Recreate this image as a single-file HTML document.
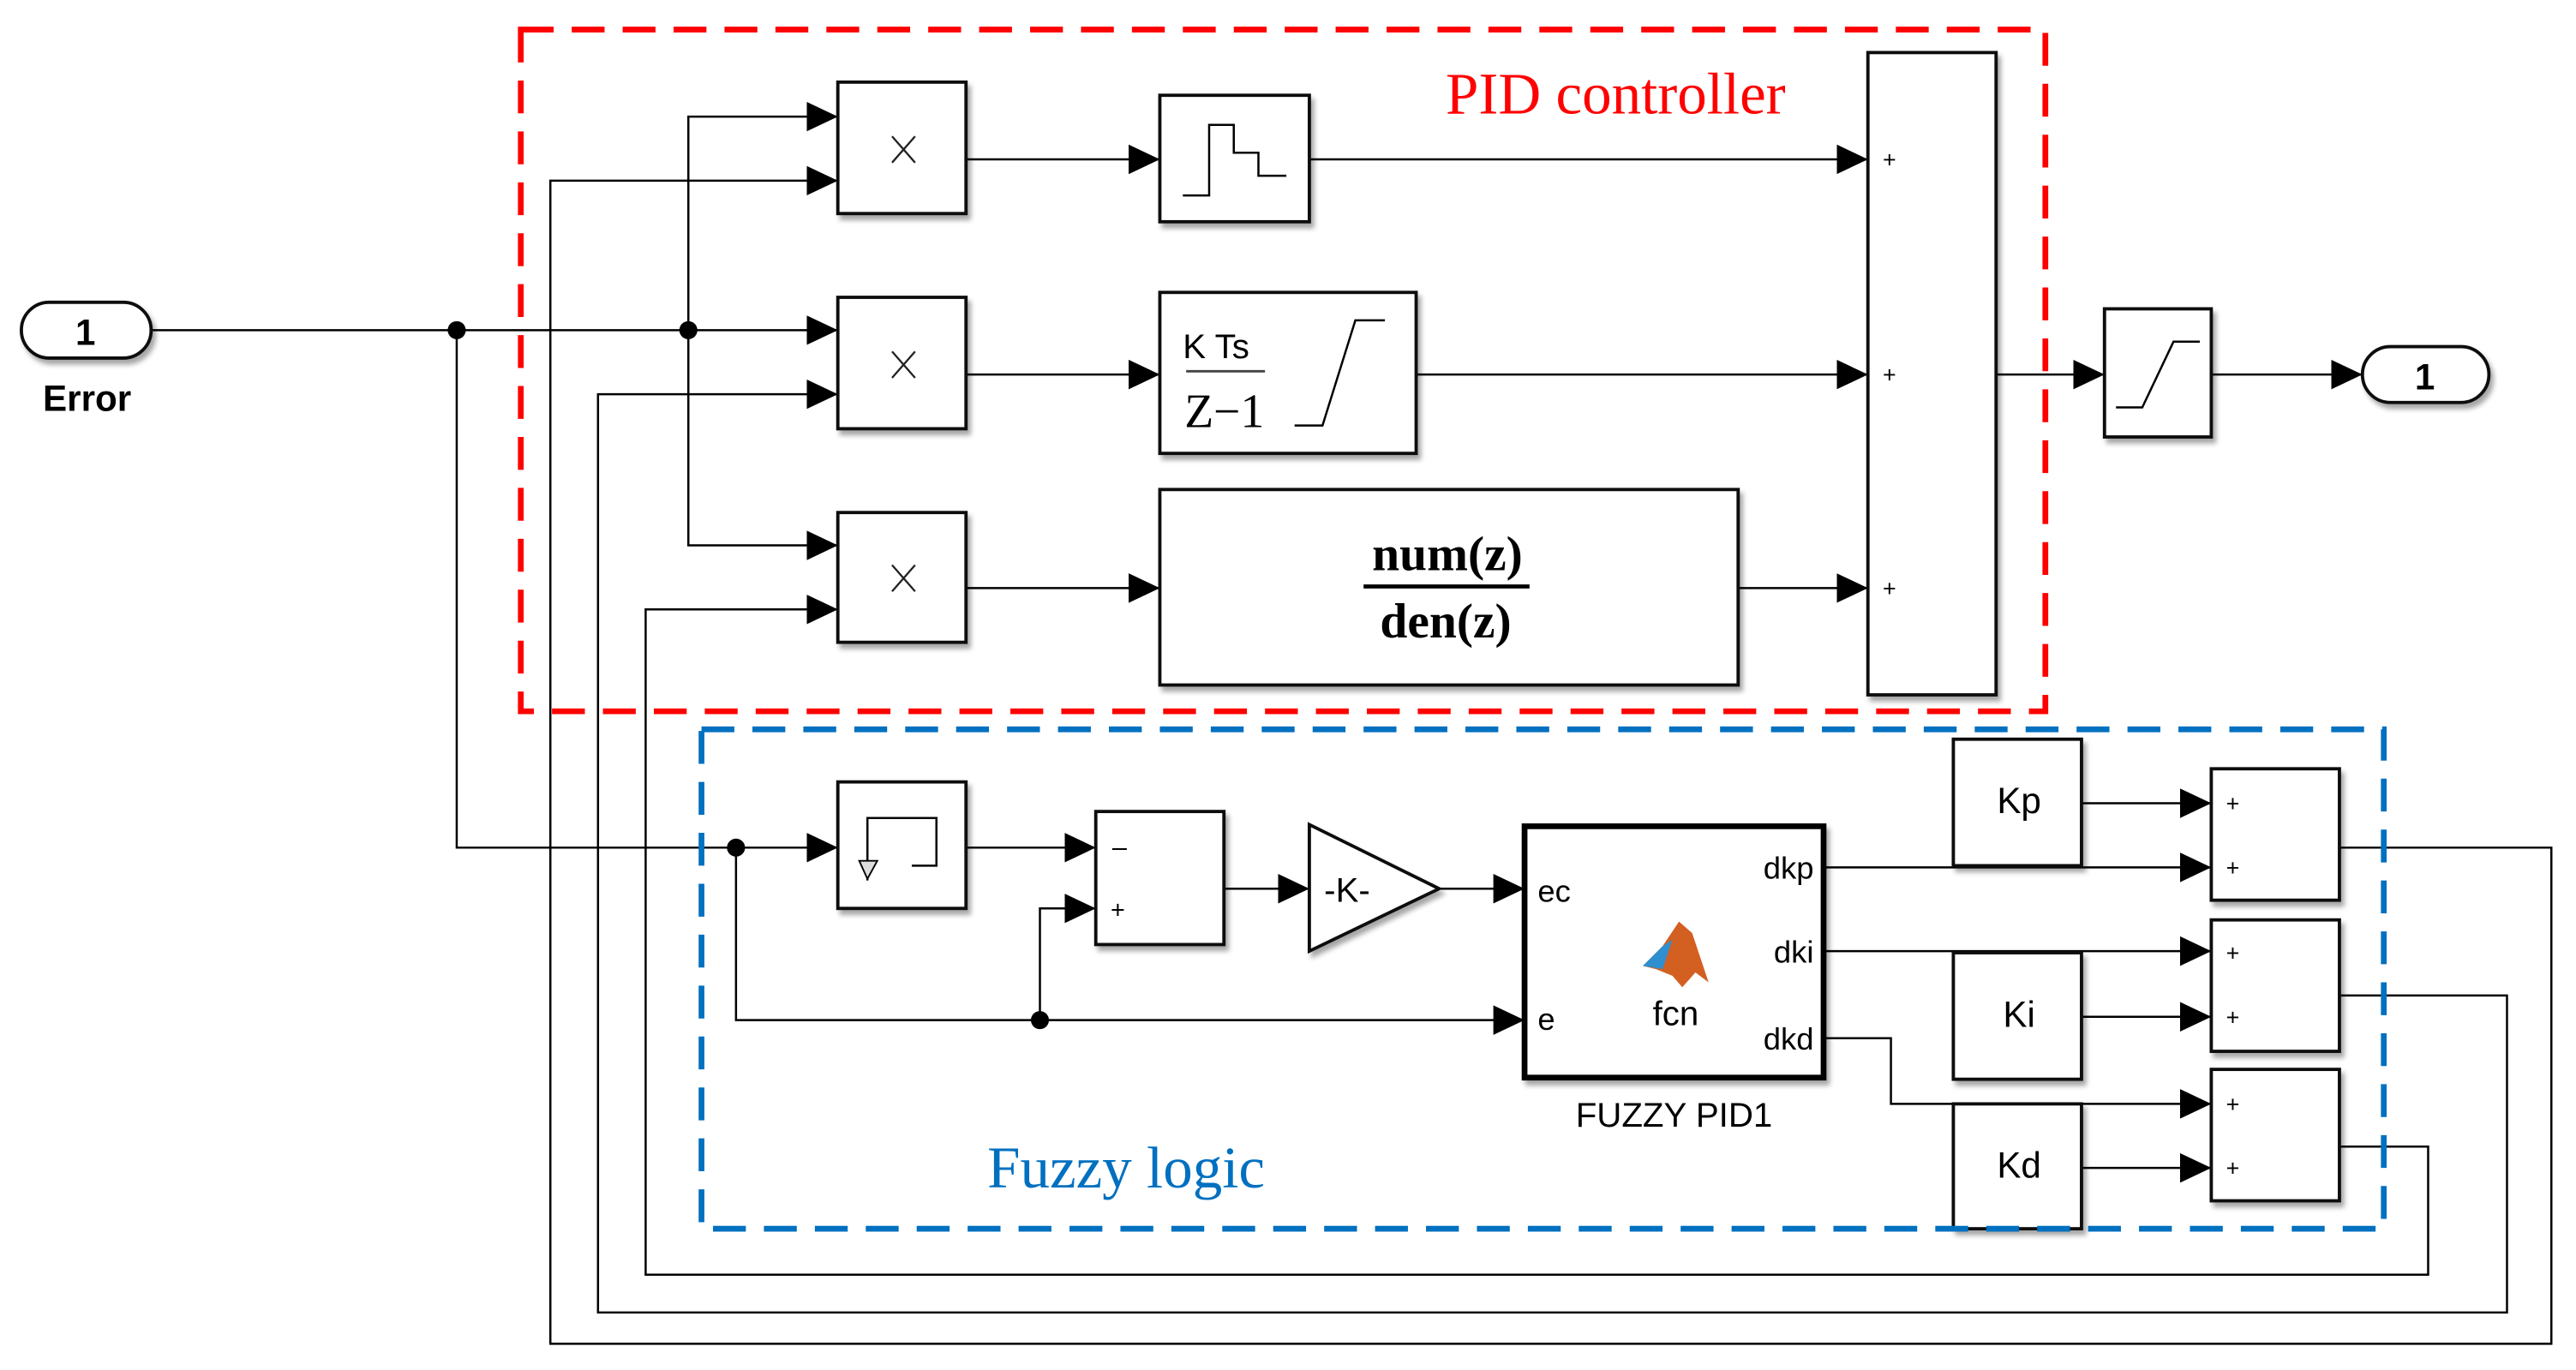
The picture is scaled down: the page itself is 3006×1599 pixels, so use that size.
<!DOCTYPE html>
<html><head><meta charset="utf-8"><style>
html,body{margin:0;padding:0;background:#fff;}
svg{display:block;}
text{font-family:"Liberation Sans",sans-serif;}
.b{fill:#fff;stroke:#111;stroke-width:2;}
.w{fill:none;stroke:#000;stroke-width:1.3;}
</style></head><body>
<svg width="3006" height="1599" viewBox="0 0 1568 834" preserveAspectRatio="none" xmlns="http://www.w3.org/2000/svg">
<defs>
<marker id="a" markerWidth="20" markerHeight="20" refX="19" refY="9" orient="auto" markerUnits="userSpaceOnUse">
<path d="M0,0 L19,9 L0,18 Z" fill="#000"/></marker>
<filter id="s" x="-10%" y="-10%" width="130%" height="130%"><feDropShadow dx="2" dy="3" stdDeviation="1.5" flood-color="#000" flood-opacity="0.35"/></filter>
</defs>

<polyline class="w" points="1424,516 1553,516 1553,818 335,818 335,110 510,110" marker-end="url(#a)"/>
<polyline class="w" points="1424,606 1526,606 1526,799 364,799 364,240 510,240" marker-end="url(#a)"/>
<polyline class="w" points="1424,698 1478,698 1478,776 393,776 393,371 510,371" marker-end="url(#a)"/>

<polyline class="w" points="92,201 510,201" marker-end="url(#a)"/>
<polyline class="w" points="419,201 419,71 510,71" marker-end="url(#a)"/>
<polyline class="w" points="419,201 419,332 510,332" marker-end="url(#a)"/>
<polyline class="w" points="278,201 278,516 510,516" marker-end="url(#a)"/>
<polyline class="w" points="448,516 448,621 928,621" marker-end="url(#a)"/>
<polyline class="w" points="633,621 633,553 667,553" marker-end="url(#a)"/>
<polyline class="w" points="588,516 667,516" marker-end="url(#a)"/>
<polyline class="w" points="745,541 797,541" marker-end="url(#a)"/>
<polyline class="w" points="876,541 928,541" marker-end="url(#a)"/>
<circle cx="278" cy="201" r="5.5"/><circle cx="419" cy="201" r="5.5"/>
<circle cx="448" cy="516" r="5.5"/><circle cx="633" cy="621" r="5.5"/>

<polyline class="w" points="588,97 706,97" marker-end="url(#a)"/>
<polyline class="w" points="588,228 706,228" marker-end="url(#a)"/>
<polyline class="w" points="588,358 706,358" marker-end="url(#a)"/>
<polyline class="w" points="797,97 1137,97" marker-end="url(#a)"/>
<polyline class="w" points="862,228 1137,228" marker-end="url(#a)"/>
<polyline class="w" points="1058,358 1137,358" marker-end="url(#a)"/>
<polyline class="w" points="1215,228 1281,228" marker-end="url(#a)"/>
<polyline class="w" points="1346,228 1438,228" marker-end="url(#a)"/>

<polyline class="w" points="1110,528 1346,528" marker-end="url(#a)"/>
<polyline class="w" points="1267,489 1346,489" marker-end="url(#a)"/>
<polyline class="w" points="1110,579 1346,579" marker-end="url(#a)"/>
<polyline class="w" points="1267,619 1346,619" marker-end="url(#a)"/>
<polyline class="w" points="1110,632 1151,632 1151,672 1346,672" marker-end="url(#a)"/>
<polyline class="w" points="1267,711 1346,711" marker-end="url(#a)"/>

<rect x="13" y="184" width="79" height="34" rx="17" class="b" filter="url(#s)"/>
<text x="52" y="210" font-size="22" font-weight="bold" text-anchor="middle">1</text>
<text x="53" y="250" font-size="22" font-weight="bold" text-anchor="middle">Error</text>
<rect x="1438" y="211" width="77" height="34" rx="17" class="b" filter="url(#s)"/>
<text x="1476" y="237" font-size="22" font-weight="bold" text-anchor="middle">1</text>

<g filter="url(#s)">
<rect x="510" y="50" width="78" height="80" class="b"/>
<rect x="510" y="181" width="78" height="80" class="b"/>
<rect x="510" y="312" width="78" height="79" class="b"/>
<rect x="706" y="58" width="91" height="77" class="b"/>
<rect x="706" y="178" width="156" height="98" class="b"/>
<rect x="706" y="298" width="352" height="119" class="b"/>
<rect x="1137" y="32" width="78" height="391" class="b"/>
<rect x="1281" y="188" width="65" height="78" class="b"/>
<rect x="510" y="476" width="78" height="77" class="b"/>
<rect x="667" y="494" width="78" height="81" class="b"/>
<polygon points="797,502 876,541 797,579" class="b"/>
<rect x="928" y="503" width="182" height="153" fill="#fff" stroke="#000" stroke-width="3.5"/>
<rect x="1189" y="450" width="78" height="77" class="b"/>
<rect x="1189" y="580" width="78" height="77" class="b"/>
<rect x="1189" y="672" width="78" height="76" class="b"/>
<rect x="1346" y="468" width="78" height="80" class="b"/>
<rect x="1346" y="560" width="78" height="80" class="b"/>
<rect x="1346" y="651" width="78" height="80" class="b"/>
</g>
<g stroke="#222" stroke-width="1.2">
<path d="M543,83 L557,99 M557,83 L543,99"/>
<path d="M543,214 L557,230 M557,214 L543,230"/>
<path d="M543,344 L557,360 M557,344 L543,360"/>
</g>
<polyline class="w" points="720,119 736,119 736,76 751,76 751,93 766,93 766,107 783,107"/>
<text x="720" y="218" font-size="21">K Ts</text>
<line x1="722" y1="226" x2="770" y2="226" stroke="#444" stroke-width="1.5"/>
<text x="721" y="260" font-size="29" style="font-family:'Liberation Serif',serif">Z−1</text>
<polyline class="w" points="788,259 805,259 825,195 843,195"/>
<text x="881" y="347" font-size="30" font-weight="bold" text-anchor="middle" style="font-family:'Liberation Serif',serif">num(z)</text>
<line x1="830" y1="357" x2="931" y2="357" stroke="#000" stroke-width="2.5"/>
<text x="880" y="388" font-size="30" font-weight="bold" text-anchor="middle" style="font-family:'Liberation Serif',serif">den(z)</text>
<g font-size="14">
<text x="1146" y="102">+</text><text x="1146" y="233">+</text><text x="1146" y="363">+</text>
</g>
<polyline class="w" points="1288,248 1304,248 1323,208 1339,208"/>
<polyline class="w" points="528,536 528,498 570,498 570,527 555,527"/>
<polygon points="523,524 534,524 528,535" fill="#ddd" stroke="#000" stroke-width="1"/>
<text x="677" y="521" font-size="16">–</text>
<text x="676" y="559" font-size="15">+</text>
<text x="806" y="549" font-size="21">-K-</text>
<text x="936" y="549" font-size="19">ec</text>
<text x="936" y="627" font-size="19">e</text>
<text x="1104" y="535" font-size="19" text-anchor="end">dkp</text>
<text x="1104" y="586" font-size="19" text-anchor="end">dki</text>
<text x="1104" y="639" font-size="19" text-anchor="end">dkd</text>
<text x="1020" y="624" font-size="21" text-anchor="middle">fcn</text>
<path d="M1000,588 L1012,576 L1022,561 L1030,568 L1040,598 L1032,592 L1024,601 L1018,594 L1008,590 Z" fill="#d35f21"/>
<path d="M1000,588 L1012,576 L1018,572 L1012,590 Z" fill="#2f8fd1"/>
<text x="1019" y="686" font-size="21" text-anchor="middle">FUZZY PID1</text>
<text x="1229" y="495" font-size="22" text-anchor="middle">Kp</text>
<text x="1229" y="625" font-size="22" text-anchor="middle">Ki</text>
<text x="1229" y="717" font-size="22" text-anchor="middle">Kd</text>
<g font-size="14">
<text x="1355" y="494">+</text><text x="1355" y="533">+</text>
<text x="1355" y="585">+</text><text x="1355" y="624">+</text>
<text x="1355" y="677">+</text><text x="1355" y="716">+</text>
</g>

<rect x="317" y="18" width="928" height="415" fill="none" stroke="#f00" stroke-width="3.5" stroke-dasharray="20,11"/>
<rect x="427" y="444" width="1024" height="304" fill="none" stroke="#0070c0" stroke-width="3.5" stroke-dasharray="20,11"/>
<text x="880" y="69" font-size="36" fill="#f00" style="font-family:'Liberation Serif',serif">PID controller</text>
<text x="601" y="723" font-size="36" fill="#0070c0" style="font-family:'Liberation Serif',serif">Fuzzy logic</text>
</svg>
</body></html>
